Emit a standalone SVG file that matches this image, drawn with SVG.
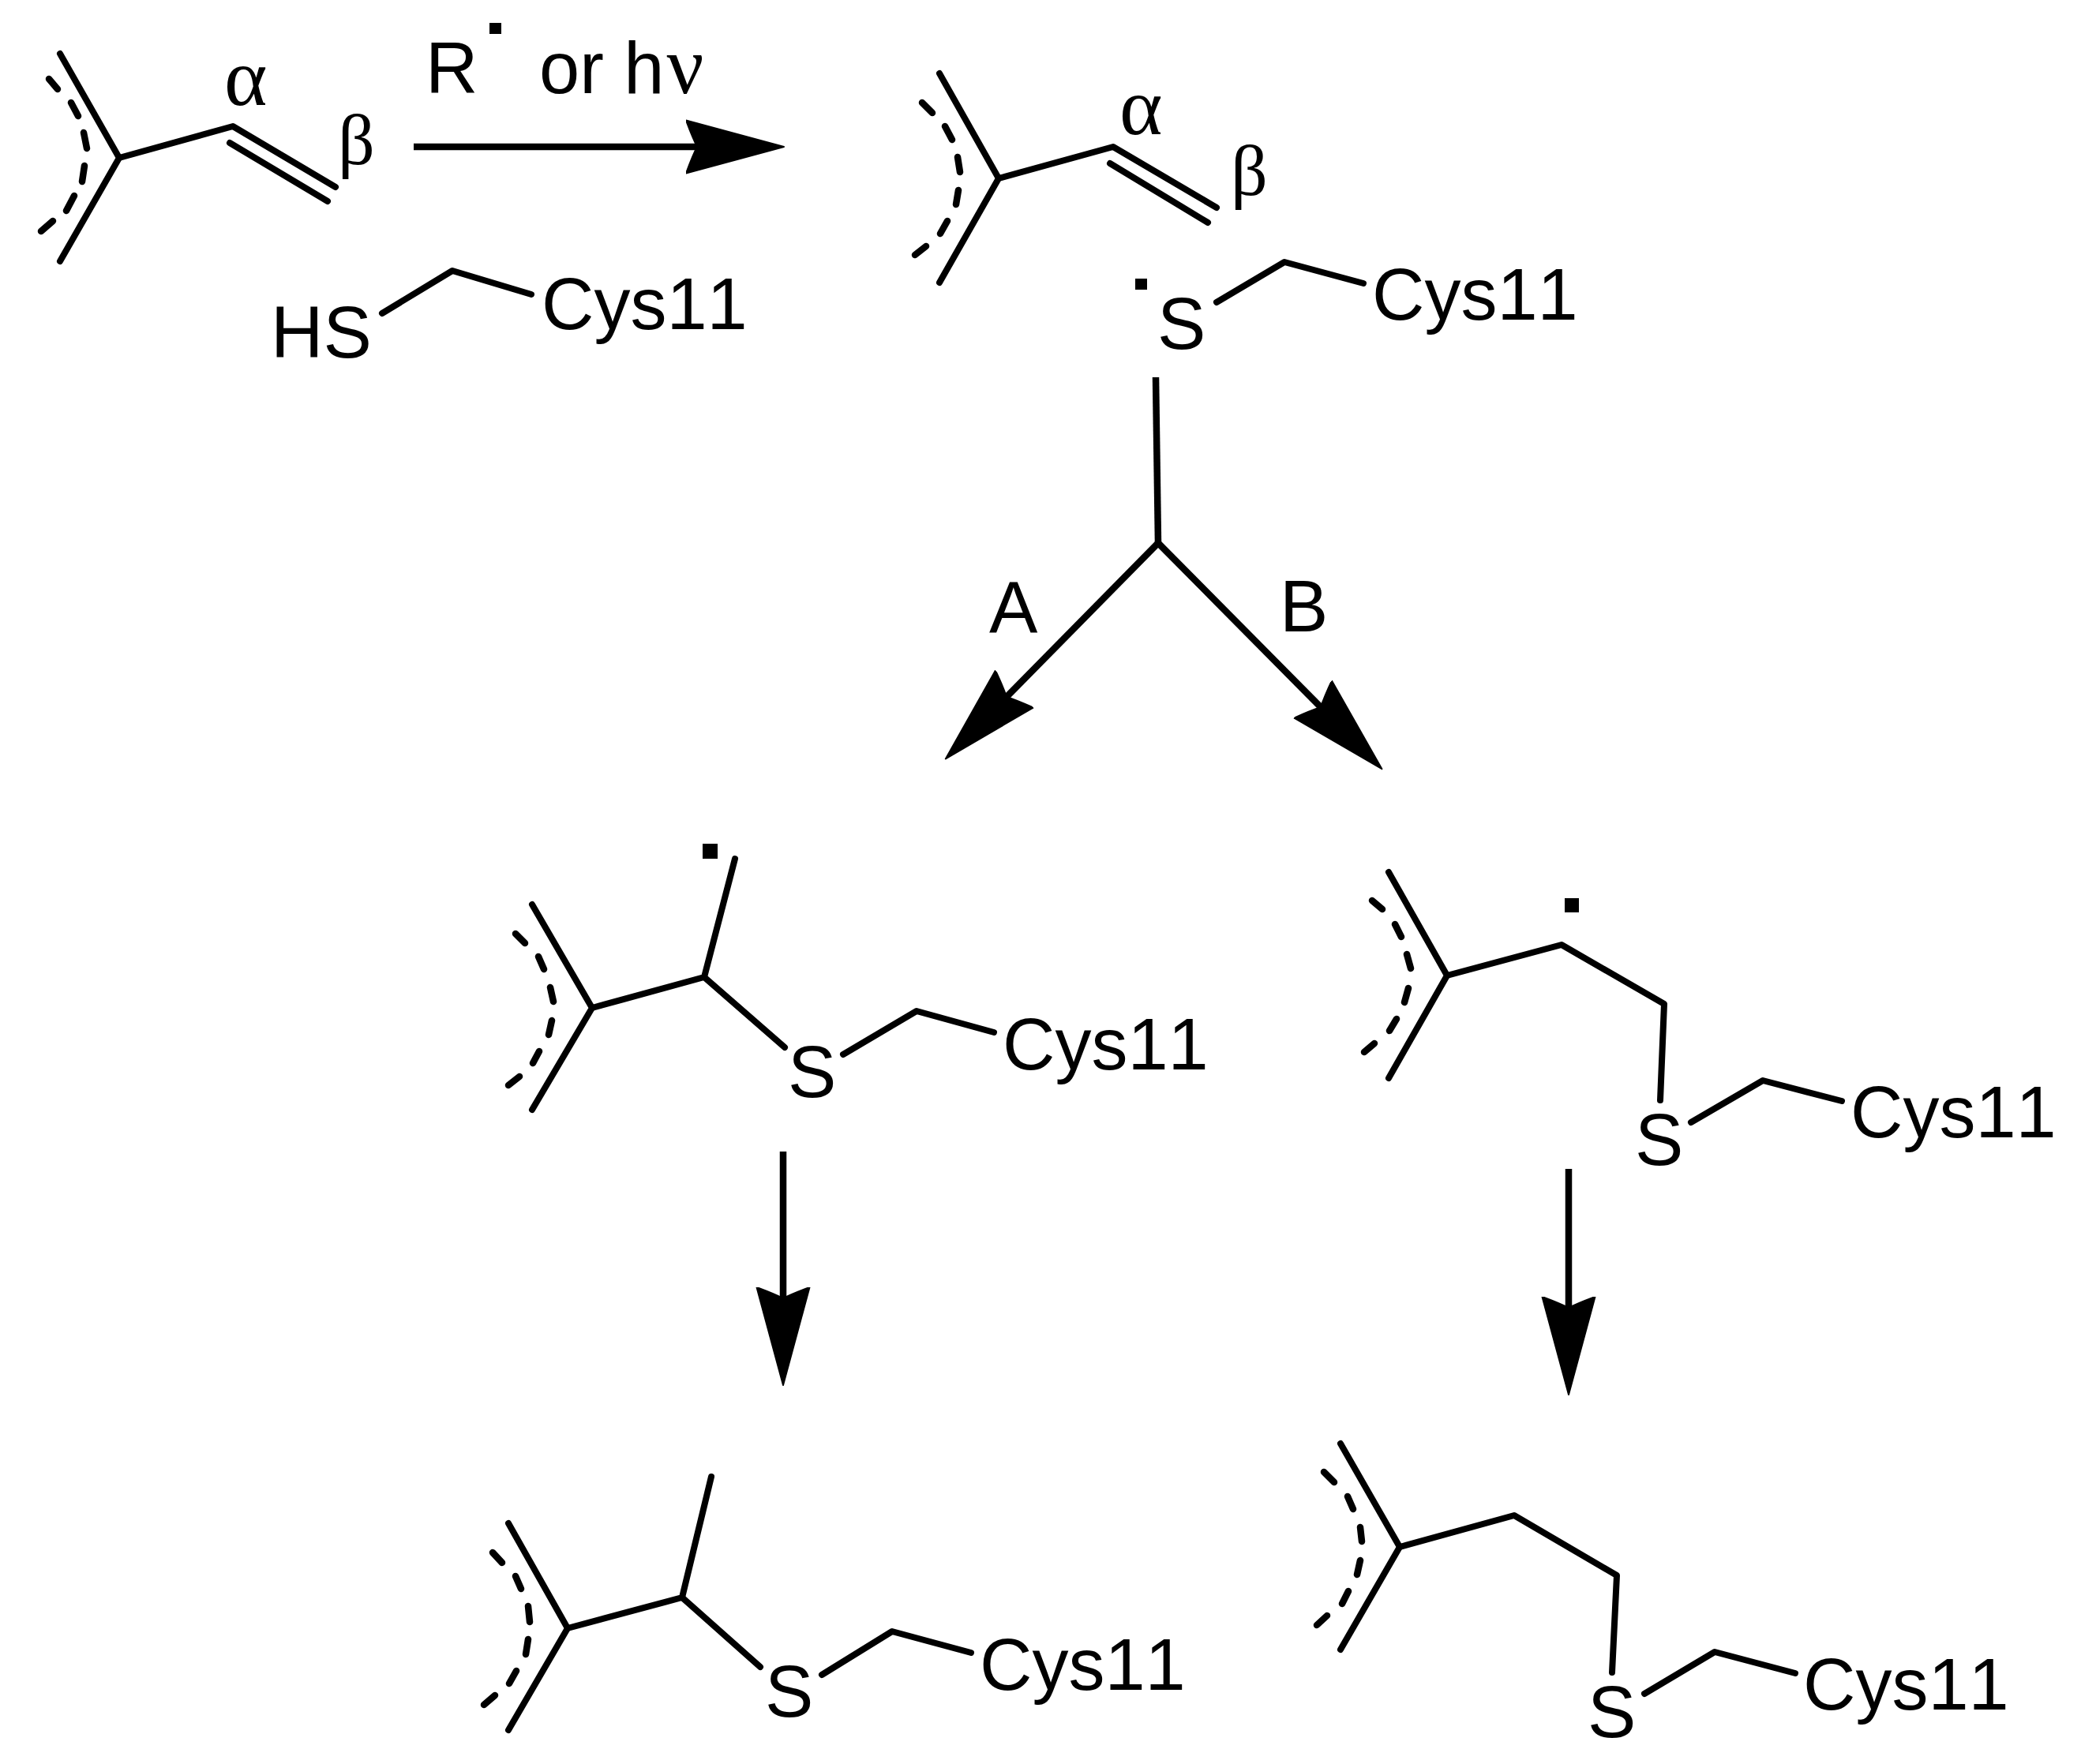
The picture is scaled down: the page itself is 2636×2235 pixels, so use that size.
<svg xmlns="http://www.w3.org/2000/svg" width="2636" height="2235" viewBox="0 0 2636 2235">
<style>
.b{fill:none;stroke:#000;stroke-width:8;stroke-linecap:round;stroke-linejoin:round}
.d{fill:none;stroke:#000;stroke-width:8.5;stroke-linecap:round}
.a{fill:none;stroke:#000;stroke-width:8.5;stroke-linejoin:miter}
.t{font-family:"Liberation Sans",Arial,sans-serif;font-size:92px;fill:#000;font-kerning:none}
.g{font-family:"Liberation Serif","Times New Roman",serif;font-size:92px;fill:#000}
.ga{font-size:104px}
</style>
<defs>
<marker id="head" markerUnits="userSpaceOnUse" markerWidth="128" markerHeight="72" viewBox="0 -36 128 72" refX="14" refY="0" orient="auto">
<path d="M0,-33.5 Q8,-12 14,0 Q8,12 0,33.5 L124,0 Z" fill="#000" stroke="#000" stroke-width="2" stroke-linejoin="round"/>
</marker>
</defs>
<rect width="2636" height="2235" fill="#fff"/>
<g id="connectors">
<path id="arrow-top" class="a" d="M524,186 H883" marker-end="url(#head)"/>
<path id="fork-stem" class="a" d="M1464,478 L1467,688"/>
<path id="arrow-A" class="a" d="M1467,688 L1275,883" marker-end="url(#head)"/>
<path id="arrow-B" class="a" d="M1467,688 L1673,896" marker-end="url(#head)"/>
<path id="arrow-left" class="a" d="M992,1459 V1645" marker-end="url(#head)"/>
<path id="arrow-right" class="a" d="M1987,1481 V1657" marker-end="url(#head)"/>
</g>
<g id="reagent-label">
<text class="t" x="539" y="118">R</text>
<rect x="620" y="29" width="15" height="14"/>
<text class="t" x="683" y="118">or h<tspan class="g" font-size="104" style="font-size:104px" dx="3">ν</tspan></text>
</g>
<g id="label-A"><text class="t" x="1253" y="802">A</text></g>
<g id="label-B"><text class="t" x="1621" y="800">B</text></g>
<g id="mol-1">
<path class="b" d="M76,68 L151,200 L76,331"/>
<path class="b" d="M151,200 L295,160 L425,237"/>
<path class="b" d="M291,181 L415,255"/>
<path class="d" d="M62,100 L73,113 M90,130 L99,147 M106,168 L110,188 M107,210 L104,230 M94,248 L84,267 M67,280 L52,293"/>
<text class="g ga" x="284" y="133">α</text>
<text class="g" x="428" y="208">β</text>
</g>
<g id="thiol-1">
<path class="b" d="M484,397 L573,343 L673,373"/>
<text class="t" x="343" y="453">HS</text>
<text class="t" x="686" y="417">Cys11</text>
</g>
<g id="mol-2">
<path class="b" d="M1190,93 L1265,226 L1190,358"/>
<path class="b" d="M1265,226 L1410,186 L1541,263"/>
<path class="b" d="M1406,207 L1530,282"/>
<path class="d" d="M1168,130 L1181,143 M1197,160 L1206,177 M1213,199 L1216,218 M1214,241 L1211,259 M1200,280 L1191,296 M1173,312 L1159,323"/>
<text class="g ga" x="1418" y="170">α</text>
<text class="g" x="1559" y="247">β</text>
</g>
<g id="thiyl-2">
<rect x="1438" y="353" width="15" height="14"/>
<path class="b" d="M1541,383 L1627,332 L1727,359"/>
<text class="t" x="1466" y="442">S</text>
<text class="t" x="1738" y="405">Cys11</text>
</g>
<g id="mol-3">
<path class="b" d="M674,1146 L750,1277 L674,1406"/>
<path class="b" d="M750,1277 L892,1238 L931,1088"/>
<path class="b" d="M892,1238 L994,1327"/>
<path class="b" d="M1068,1336 L1161,1281 L1259,1308"/>
<path class="d" d="M653,1183 L665,1195 M682,1212 L689,1228 M697,1251 L701,1269 M699,1293 L695,1311 M683,1332 L675,1347 M658,1364 L644,1375"/>
<rect x="890" y="1069" width="19" height="19"/>
<text class="t" x="998" y="1390">S</text>
<text class="t" x="1270" y="1355">Cys11</text>
</g>
<g id="mol-4">
<path class="b" d="M1759,1105 L1833,1236 L1759,1366"/>
<path class="b" d="M1833,1236 L1978,1197 L2108,1272 L2103,1394"/>
<path class="b" d="M2142,1422 L2233,1369 L2333,1395"/>
<path class="d" d="M1738,1141 L1751,1152 M1767,1171 L1775,1187 M1782,1209 L1787,1227 M1784,1252 L1779,1270 M1769,1291 L1760,1306 M1741,1322 L1728,1333"/>
<rect x="1982" y="1138" width="18" height="18"/>
<text class="t" x="2071" y="1476">S</text>
<text class="t" x="2344" y="1441">Cys11</text>
</g>
<g id="mol-5">
<path class="b" d="M644,1930 L719,2063 L644,2192"/>
<path class="b" d="M719,2063 L864,2024 L901,1871"/>
<path class="b" d="M864,2024 L963,2112"/>
<path class="b" d="M1041,2122 L1130,2067 L1230,2094"/>
<path class="d" d="M624,1967 L636,1980 M653,1997 L660,2013 M669,2035 L671,2055 M669,2077 L666,2096 M654,2117 L645,2133 M627,2148 L613,2160"/>
<text class="t" x="969" y="2175">S</text>
<text class="t" x="1241" y="2141">Cys11</text>
</g>
<g id="mol-6">
<path class="b" d="M1698,1829 L1773,1960 L1698,2090"/>
<path class="b" d="M1773,1960 L1918,1920 L2048,1996 L2042,2119"/>
<path class="b" d="M2083,2146 L2172,2093 L2274,2120"/>
<path class="d" d="M1677,1865 L1690,1878 M1707,1896 L1714,1912 M1723,1935 L1725,1953 M1723,1977 L1719,1995 M1708,2016 L1700,2032 M1681,2047 L1668,2059"/>
<text class="t" x="2011" y="2201">S</text>
<text class="t" x="2284" y="2166">Cys11</text>
</g>
</svg>
